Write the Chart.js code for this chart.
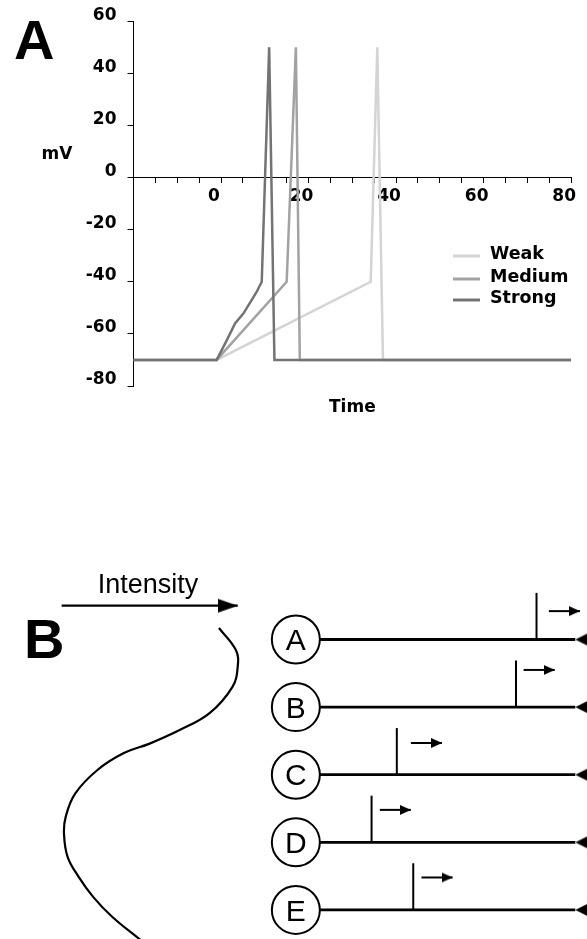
<!DOCTYPE html>
<html>
<head>
<meta charset="utf-8">
<script src="https://cdn.jsdelivr.net/npm/chart.js@4.4.1/dist/chart.umd.min.js"></script>
<style>
  html, body { margin: 0; padding: 0; background: #fff; }
  body { width: 587px; height: 939px; position: relative; overflow: hidden; }
  canvas { position: absolute; left: 0; }
  #graficoA { top: 0; }
  #graficoB { top: 540px; }
</style>
</head>
<body>
<canvas id="graficoA" width="587" height="430"></canvas>
<canvas id="graficoB" width="587" height="399"></canvas>
<script>
// ---- painel A: potencial de membrana ----
const nomesSeries = ['Weak', 'Medium', 'Strong']
const coresSeries = ['#d4d4d4', '#a2a2a2', '#737373']

const tempoWeak = [-20, -1, 34.2, 35.7, 37, 80]
const mvWeak = [-70, -70, -40, 50, -70, -70]

const tempoMedium = [-20, -1, 15, 17.1, 18, 80]
const mvMedium = [-70, -70, -40, 50, -70, -70]

const tempoStrong = [-20, -1, 1.3, 3.2, 5.1, 8.1, 9.3, 11, 12.2, 80]
const mvStrong = [-70, -70, -62.5, -56, -52.2, -44, -40, 50, -70, -70]

const ticksTempo = [0, 20, 40, 60, 80]

// ---- painel B: neuronios e limiares ----
const neuronios = ['A', 'B', 'C', 'D', 'E']
const limiares = [91.4, 87.9, 67.6, 63.3, 70.4]
const inicioSeta = [93.5, 89.2, 70.0, 64.7, 71.8]
const alturaSeta = [0.42, 0.55, 0.47, 0.48, 0.48]

const curvaX = [37.3, 40.2, 40.5, 39.6, 35.7, 30.6, 25.5, 21.1, 16.6, 12.8, 11.2, 10.9, 11.5, 13.4, 15.9, 19.1, 23.6, 25.5]
const curvaY = [-0.17, 0.16, 0.4, 0.7, 1.09, 1.34, 1.54, 1.68, 1.93, 2.28, 2.62, 2.87, 3.21, 3.51, 3.81, 4.1, 4.42, 4.55]

const intensidadeX = [10.5, 40.5]

const juntar = (xs, ys) => xs.map((x, i) => ({ x: x, y: ys[i] }))
const fonteNegrito = (tam) => ({ family: "'DejaVu Sans', sans-serif", size: tam, weight: 'bold' })

function criarPonta(comp, meia, direcao) {
    const c = document.createElement('canvas')
    c.width = comp * 2
    c.height = meia * 2 + 2
    const g = c.getContext('2d')
    const meio = c.height / 2
    g.fillStyle = '#000'
    g.beginPath()
    if (direcao == 'direita') {
        g.moveTo(0, meio - meia); g.lineTo(comp, meio); g.lineTo(0, meio + meia)
    } else {
        g.moveTo(comp * 2, meio - meia); g.lineTo(comp, meio); g.lineTo(comp * 2, meio + meia)
    }
    g.closePath()
    g.fill()
    return c
}

const textosA = {
    id: 'textosA',
    afterDraw(chart) {
        const c = chart.ctx
        const area = chart.chartArea
        c.save()
        c.fillStyle = '#000'
        c.font = "bold 56px 'Liberation Sans', Arial, sans-serif"
        c.textAlign = 'left'
        c.textBaseline = 'alphabetic'
        c.fillText('A', 14, 59)

        c.font = "bold 17px 'DejaVu Sans', sans-serif"
        c.textAlign = 'center'
        c.textBaseline = 'middle'
        c.fillText('mV', 57, 155)
        c.fillText('Time', (area.left + area.right) / 2, 408)

        // legenda
        const yLeg = [256, 279, 300]
        chart.data.datasets.forEach((ds, i) => {
            c.strokeStyle = ds.borderColor
            c.lineWidth = 3
            c.beginPath()
            c.moveTo(453, yLeg[i])
            c.lineTo(480, yLeg[i])
            c.stroke()
            c.fillStyle = '#000'
            c.font = "bold 17.5px 'DejaVu Sans', sans-serif"
            c.textAlign = 'left'
            c.fillText(ds.label, 490, yLeg[i] - 2)
        })
        c.restore()
    }
}

const serieA = (i, xs, ys, ordem) => ({
    label: nomesSeries[i],
    data: juntar(xs, ys),
    borderColor: coresSeries[i],
    borderWidth: 2.5,
    showLine: true,
    pointRadius: 0,
    order: ordem
})

var graficoA = new Chart(document.getElementById('graficoA'), {
    type: 'scatter',
    data: {
        datasets: [
            serieA(0, tempoWeak, mvWeak, 3),
            serieA(1, tempoMedium, mvMedium, 2),
            serieA(2, tempoStrong, mvStrong, 1)
        ]
    },
    options: {
        responsive: false,
        animation: false,
        devicePixelRatio: 1,
        layout: { padding: { left: 0, right: 15, top: 21, bottom: 44 } },
        plugins: { legend: { display: false }, tooltip: { enabled: false } },
        scales: {
            x: {
                type: 'linear',
                min: -20,
                max: 80,
                position: { y: 0 },
                border: { display: true, color: '#000', width: 1 },
                grid: { drawOnChartArea: false, drawTicks: true, tickLength: 5, color: '#000' },
                ticks: {
                    stepSize: 5,
                    maxTicksLimit: 25,
                    autoSkip: false,
                    maxRotation: 0,
                    labelOffset: -7,
                    padding: 4,
                    color: '#000',
                    font: fonteNegrito(17),
                    callback: v => ticksTempo.includes(v) ? v : ''
                }
            },
            y: {
                min: -80,
                max: 60,
                position: 'left',
                afterFit: s => { s.width = 133.5 },
                border: { display: true, color: '#000', width: 1 },
                grid: { drawOnChartArea: false, drawTicks: true, tickLength: 6, color: '#000' },
                ticks: {
                    stepSize: 20,
                    labelOffset: -6,
                    padding: 11,
                    color: '#000',
                    font: fonteNegrito(17)
                }
            }
        }
    },
    plugins: [textosA]
})

// ---- painel B ----
const pontaGrande = criarPonta(20, 7, 'direita')
const pontaPequena = criarPonta(11, 5, 'direita')
const pontaBorda = criarPonta(16, 8, 'esquerda')
const xCirculo = 50.4

const textosB = {
    id: 'textosB',
    afterDraw(chart) {
        const c = chart.ctx
        c.save()
        c.fillStyle = '#000'
        c.font = "bold 56px 'Liberation Sans', Arial, sans-serif"
        c.textAlign = 'left'
        c.textBaseline = 'alphabetic'
        c.fillText('B', 24, 118)

        c.font = "27px 'Liberation Sans', Arial, sans-serif"
        c.textAlign = 'center'
        c.fillText('Intensity', 148, 53)

        const meta = chart.getDatasetMeta(chart.data.datasets.length - 1)
        c.font = "30px 'Liberation Sans', Arial, sans-serif"
        meta.data.forEach((p, i) => {
            c.fillText(neuronios[i], p.x, p.y + 10.7)
        })
        c.restore()
    }
}

const datasetsB = []

datasetsB.push({
    data: juntar(curvaX, curvaY),
    showLine: true, tension: 0.4, borderColor: '#000', borderWidth: 2.2,
    pointRadius: 0, order: 5
})

datasetsB.push({
    data: intensidadeX.map(x => ({ x: x, y: -0.5 })),
    showLine: true, borderColor: '#000', borderWidth: 2.2,
    pointRadius: [0, 10], pointStyle: pontaGrande, order: 5
})

neuronios.forEach((n, i) => {
    datasetsB.push({
        data: [{ x: xCirculo, y: i }, { x: 98, y: i }],
        showLine: true, borderColor: '#000', borderWidth: 2.8,
        pointRadius: [0, 10], pointStyle: pontaBorda, order: 4
    })
    datasetsB.push({
        data: [{ x: limiares[i], y: i }, { x: limiares[i], y: i - 0.69 }],
        showLine: true, borderColor: '#000', borderWidth: 2,
        pointRadius: 0, order: 4
    })
    datasetsB.push({
        data: [{ x: inicioSeta[i], y: i - alturaSeta[i] }, { x: inicioSeta[i] + 5.3, y: i - alturaSeta[i] }],
        showLine: true, borderColor: '#000', borderWidth: 2,
        pointRadius: [0, 6], pointStyle: pontaPequena, order: 4
    })
})

// circulos por cima das linhas
datasetsB.push({
    data: neuronios.map((n, i) => ({ x: xCirculo, y: i })),
    showLine: false,
    pointRadius: 24,
    pointBorderWidth: 2,
    pointBorderColor: '#000',
    pointBackgroundColor: '#fff',
    order: 0
})

var graficoB = new Chart(document.getElementById('graficoB'), {
    type: 'scatter',
    data: { datasets: datasetsB },
    options: {
        responsive: false,
        animation: false,
        devicePixelRatio: 1,
        layout: { padding: 0, autoPadding: false },
        plugins: { legend: { display: false }, tooltip: { enabled: false } },
        scales: {
            x: { type: 'linear', min: 0, max: 100, display: false },
            y: { type: 'linear', min: -1.472, max: 4.43, reverse: true, display: false }
        }
    },
    plugins: [textosB]
})
</script>
</body>
</html>
